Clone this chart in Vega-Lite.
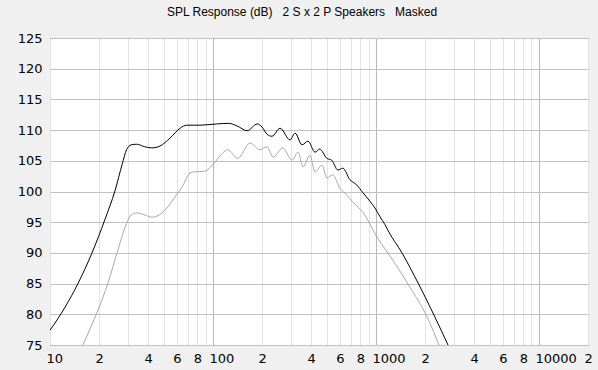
{
  "$schema": "https://vega.github.io/schema/vega-lite/v6.json",
  "width": 538,
  "height": 307,
  "autosize": {"type": "none"},
  "padding": {"left": 50, "top": 38, "right": 10, "bottom": 25},
  "background": "#f0f0f0",
  "title": {
    "text": "SPL Response (dB)\u00a0\u00a0\u00a02 S x 2 P Speakers\u00a0\u00a0\u00a0Masked",
    "anchor": "middle",
    "dx": -17,
    "offset": 13,
    "font": "Liberation Sans",
    "fontSize": 12,
    "fontWeight": "normal",
    "color": "#000"
  },
  "config": {
    "view": {"stroke": "#000", "strokeWidth": 1, "fill": "#ffffff"},
    "axis": {"labelFont": "DejaVu Sans", "labelFontSize": 13, "labelColor": "#000", "domain": false, "ticks": false, "title": null}
  },
  "datasets": {
    "spl": [
      {"f": 10, "v": 77.4, "s": "A"},
      {"f": 12.4, "v": 81.2, "s": "A"},
      {"f": 14.9, "v": 85.1, "s": "A"},
      {"f": 18.1, "v": 90.0, "s": "A"},
      {"f": 21.7, "v": 95.4, "s": "A"},
      {"f": 25.1, "v": 100.2, "s": "A"},
      {"f": 27.7, "v": 104.4, "s": "A"},
      {"f": 29.5, "v": 106.8, "s": "A"},
      {"f": 31.5, "v": 107.6, "s": "A"},
      {"f": 34, "v": 107.7, "s": "A"},
      {"f": 38, "v": 107.3, "s": "A"},
      {"f": 42.2, "v": 107.1, "s": "A"},
      {"f": 47.3, "v": 107.4, "s": "A"},
      {"f": 54.5, "v": 108.7, "s": "A"},
      {"f": 62.8, "v": 110.3, "s": "A"},
      {"f": 69, "v": 110.8, "s": "A"},
      {"f": 83, "v": 110.8, "s": "A"},
      {"f": 105, "v": 111.0, "s": "A"},
      {"f": 125, "v": 111.1, "s": "A"},
      {"f": 140, "v": 110.7, "s": "A"},
      {"f": 162, "v": 109.9, "s": "A"},
      {"f": 187, "v": 111.0, "s": "A"},
      {"f": 200, "v": 110.5, "s": "A"},
      {"f": 215, "v": 109.3, "s": "A"},
      {"f": 230, "v": 109.0, "s": "A"},
      {"f": 258, "v": 110.3, "s": "A"},
      {"f": 297, "v": 108.4, "s": "A"},
      {"f": 319, "v": 109.5, "s": "A"},
      {"f": 352, "v": 107.6, "s": "A"},
      {"f": 383, "v": 108.2, "s": "A"},
      {"f": 423, "v": 106.4, "s": "A"},
      {"f": 452, "v": 106.9, "s": "A"},
      {"f": 500, "v": 105.4, "s": "A"},
      {"f": 535, "v": 105.1, "s": "A"},
      {"f": 584, "v": 103.5, "s": "A"},
      {"f": 626, "v": 103.8, "s": "A"},
      {"f": 693, "v": 101.9, "s": "A"},
      {"f": 760, "v": 101.1, "s": "A"},
      {"f": 832, "v": 99.8, "s": "A"},
      {"f": 919, "v": 98.4, "s": "A"},
      {"f": 986, "v": 97.3, "s": "A"},
      {"f": 1059, "v": 95.9, "s": "A"},
      {"f": 1135, "v": 94.6, "s": "A"},
      {"f": 1200, "v": 93.4, "s": "A"},
      {"f": 1444, "v": 90.0, "s": "A"},
      {"f": 1813, "v": 85.1, "s": "A"},
      {"f": 2239, "v": 80.2, "s": "A"},
      {"f": 2768, "v": 75.0, "s": "A"},
      {"f": 15.9, "v": 75.0, "s": "B"},
      {"f": 19.7, "v": 80.7, "s": "B"},
      {"f": 22.7, "v": 85.1, "s": "B"},
      {"f": 26.1, "v": 90.5, "s": "B"},
      {"f": 29.5, "v": 94.8, "s": "B"},
      {"f": 31.5, "v": 96.2, "s": "B"},
      {"f": 34, "v": 96.5, "s": "B"},
      {"f": 38, "v": 96.2, "s": "B"},
      {"f": 42.2, "v": 95.8, "s": "B"},
      {"f": 48.7, "v": 96.5, "s": "B"},
      {"f": 58.5, "v": 99.1, "s": "B"},
      {"f": 64.5, "v": 100.7, "s": "B"},
      {"f": 72.3, "v": 103.0, "s": "B"},
      {"f": 77, "v": 103.2, "s": "B"},
      {"f": 89, "v": 103.3, "s": "B"},
      {"f": 100, "v": 104.4, "s": "B"},
      {"f": 115, "v": 106.3, "s": "B"},
      {"f": 123, "v": 106.8, "s": "B"},
      {"f": 142, "v": 105.4, "s": "B"},
      {"f": 169, "v": 107.9, "s": "B"},
      {"f": 194, "v": 106.8, "s": "B"},
      {"f": 214, "v": 107.3, "s": "B"},
      {"f": 234, "v": 105.6, "s": "B"},
      {"f": 268, "v": 107.1, "s": "B"},
      {"f": 305, "v": 105.1, "s": "B"},
      {"f": 333, "v": 106.4, "s": "B"},
      {"f": 357, "v": 104.0, "s": "B"},
      {"f": 393, "v": 105.9, "s": "B"},
      {"f": 423, "v": 103.2, "s": "B"},
      {"f": 467, "v": 104.3, "s": "B"},
      {"f": 500, "v": 102.2, "s": "B"},
      {"f": 543, "v": 102.7, "s": "B"},
      {"f": 602, "v": 100.5, "s": "B"},
      {"f": 663, "v": 99.4, "s": "B"},
      {"f": 720, "v": 98.3, "s": "B"},
      {"f": 780, "v": 97.4, "s": "B"},
      {"f": 832, "v": 96.6, "s": "B"},
      {"f": 889, "v": 95.4, "s": "B"},
      {"f": 950, "v": 93.9, "s": "B"},
      {"f": 1014, "v": 92.6, "s": "B"},
      {"f": 1271, "v": 88.8, "s": "B"},
      {"f": 1618, "v": 84.4, "s": "B"},
      {"f": 2056, "v": 79.6, "s": "B"},
      {"f": 2437, "v": 75.0, "s": "B"}
    ]
  },
  "data": {"name": "spl"},
  "encoding": {
    "x": {
      "field": "f", "type": "quantitative",
      "scale": {"type": "log", "domain": [10, 20000], "nice": false},
      "axis": {
        "values": [10,20,30,40,50,60,70,80,90,100,200,300,400,500,600,700,800,900,1000,2000,3000,4000,5000,6000,7000,8000,9000,10000,20000],
        "labelExpr": "(datum.value / pow(10, floor(log(datum.value) / LN10 + 1e-9))) < 1.5 ? format(datum.value, 'd') : (round(datum.value / pow(10, floor(log(datum.value) / LN10 + 1e-9))) % 2 == 0 ? format(round(datum.value / pow(10, floor(log(datum.value) / LN10 + 1e-9))), 'd') : '')",
        "labelOverlap": false,
        "labelFlush": false,
        "labelBound": false,
        "labelAlign": "left",
        "labelOffset": -4,
        "labelPadding": 7,
        "gridColor": {"condition": {"test": "datum.value == 100 || datum.value == 1000 || datum.value == 10000", "value": "#b8b8b8"}, "value": "#e2e2e2"},
        "gridWidth": 1
      }
    },
    "y": {
      "field": "v", "type": "quantitative",
      "scale": {"domain": [75, 125], "nice": false, "zero": false},
      "axis": {"values": [75,80,85,90,95,100,105,110,115,120,125], "gridColor": "#c0c0c0", "labelPadding": 8, "labelOverlap": false, "labelFlush": false}
    }
  },
  "layer": [
    {
      "transform": [{"filter": "datum.s == 'B'"}],
      "mark": {"type": "line", "color": "#a8a8a8", "strokeWidth": 1, "clip": true, "interpolate": "monotone"}
    },
    {
      "transform": [{"filter": "datum.s == 'A'"}],
      "mark": {"type": "line", "color": "#000000", "strokeWidth": 1, "clip": true, "interpolate": "monotone"}
    }
  ]
}
